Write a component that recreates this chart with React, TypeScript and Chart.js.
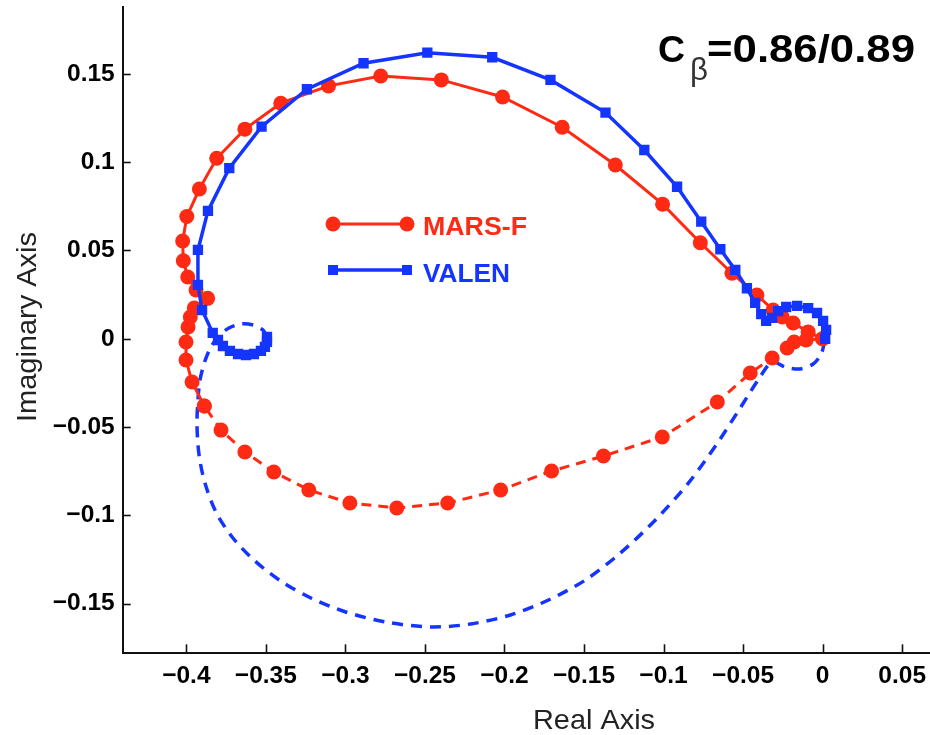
import React, { useEffect, useRef } from "react";
import { Chart, registerables } from "chart.js";

Chart.register(...registerables);

// ---------- axis ticks ----------
const xTickValues = [-0.4, -0.35, -0.3, -0.25, -0.2, -0.15, -0.1, -0.05, 0, 0.05];
const xTickLabels = ["−0.4", "−0.35", "−0.3", "−0.25", "−0.2", "−0.15", "−0.1", "−0.05", "0", "0.05"];
const yTickValues = [-0.15, -0.1, -0.05, 0, 0.05, 0.1, 0.15];
const yTickLabels = ["−0.15", "−0.1", "−0.05", "0", "0.05", "0.1", "0.15"];

// ---------- series: MARS-F (solid, positive branch) ----------
const marsSolidRe = [-0.3887, -0.3964, -0.4002, -0.4002, -0.3989, -0.3975, -0.395, -0.3866, -0.3939, -0.3991, -0.4019, -0.4023, -0.3997, -0.3918, -0.3809, -0.3632, -0.3406, -0.3106, -0.2778, -0.2397, -0.2012, -0.1637, -0.1303, -0.1006, -0.0769, -0.057, -0.0413, -0.0311, -0.0254, -0.0185, -0.0091, 0.0];
const marsSolidIm = [-0.0381, -0.0245, -0.012, -0.0018, 0.0067, 0.0123, 0.0174, 0.0229, 0.0276, 0.035, 0.0442, 0.0554, 0.0692, 0.0848, 0.1022, 0.1187, 0.1334, 0.1432, 0.1488, 0.1466, 0.1369, 0.1198, 0.0984, 0.0762, 0.0544, 0.0371, 0.0248, 0.0163, 0.0123, 0.0089, 0.0039, 0.0];

// ---------- series: MARS-F (dashed branch) ----------
const marsDashRe = [0.0, -0.0104, -0.0179, -0.0223, -0.0317, -0.0455, -0.0662, -0.1008, -0.1378, -0.1704, -0.2024, -0.2357, -0.2677, -0.2972, -0.323, -0.345, -0.3632, -0.3782, -0.3887];
const marsDashIm = [0.0, -0.0007, -0.0018, -0.0052, -0.0109, -0.0194, -0.0358, -0.0556, -0.0664, -0.0749, -0.0856, -0.093, -0.0958, -0.093, -0.0856, -0.0754, -0.0641, -0.0517, -0.0381];

// ---------- series: VALEN (solid branch) ----------
const valenSolidRe = [-0.3493, -0.3493, -0.3506, -0.3531, -0.3575, -0.3625, -0.3675, -0.3726, -0.377, -0.3801, -0.3834, -0.3901, -0.3927, -0.3927, -0.3864, -0.373, -0.3527, -0.3242, -0.2886, -0.2485, -0.2077, -0.1711, -0.1365, -0.1121, -0.0915, -0.0763, -0.0643, -0.0549, -0.0476, -0.0424, -0.0386, -0.0355, -0.0317, -0.0279, -0.0229, -0.016, -0.0091, -0.0035, 0.0003, 0.0022, 0.0016];
const valenSolidIm = [0.001, -0.0018, -0.0046, -0.0069, -0.0086, -0.0092, -0.0086, -0.0069, -0.0041, -0.0007, 0.0033, 0.0163, 0.0305, 0.0503, 0.0724, 0.0966, 0.1201, 0.1413, 0.156, 0.162, 0.1594, 0.1466, 0.1281, 0.1069, 0.0861, 0.0663, 0.0507, 0.039, 0.0286, 0.0203, 0.014, 0.0101, 0.0118, 0.0157, 0.018, 0.0186, 0.0174, 0.0146, 0.0101, 0.005, 0.0];

// ---------- series: VALEN (dashed branch) ----------
const valenDashRe = [-0.3493, -0.3519, -0.3581, -0.3657, -0.3732, -0.3795, -0.3845, -0.3883, -0.3914, -0.3927, -0.3933, -0.392, -0.3883, -0.3814, -0.3707, -0.3569, -0.3406, -0.3217, -0.2998, -0.2746, -0.2464, -0.2213, -0.1962, -0.1723, -0.1491, -0.1271, -0.1051, -0.0844, -0.0669, -0.0518, -0.0405, -0.0317, -0.0235, -0.0141, -0.006, -0.0009, 0.0016];
const valenDashIm = [0.001, 0.005, 0.0078, 0.0084, 0.0061, 0.0016, -0.0046, -0.0126, -0.0233, -0.0347, -0.0488, -0.0658, -0.0817, -0.0981, -0.1128, -0.1258, -0.1372, -0.1468, -0.1547, -0.1604, -0.1632, -0.1615, -0.1564, -0.1479, -0.1366, -0.1213, -0.1026, -0.0817, -0.0601, -0.0392, -0.0233, -0.0131, -0.016, -0.0171, -0.0143, -0.0086, 0.0];

const seriesNames = ["MARS-F", "VALEN"];
const annotationMain = "C";
const annotationSub = "β";
const annotationRest = "=0.86/0.89";
const xTitle = "Real Axis";
const yTitle = "Imaginary Axis";

const RED = "#ff2a14";
const BLUE = "#1434ff";
const FONT = '"Liberation Sans", Arial, Helvetica, sans-serif';

const toPts = (re: number[], im: number[]) => re.map((r, i) => ({ x: r, y: im[i] }));

function fitText(
  ctx: CanvasRenderingContext2D,
  text: string,
  x: number,
  y: number,
  font: string,
  width: number,
  color: string,
  align: "left" | "center" = "left"
) {
  ctx.save();
  ctx.font = font;
  const w = ctx.measureText(text).width;
  const s = width / w;
  ctx.translate(x, y);
  ctx.scale(s, 1);
  ctx.fillStyle = color;
  ctx.textBaseline = "alphabetic";
  ctx.textAlign = align;
  ctx.fillText(text, 0, 0);
  ctx.restore();
}

const zeroPad = (s: any) => {
  s.paddingTop = 0;
  s.paddingBottom = 0;
  s.paddingLeft = 0;
  s.paddingRight = 0;
};

const decorPlugin = {
  id: "decor",
  afterDraw(chart: any) {
    const ctx: CanvasRenderingContext2D = chart.ctx;
    const xs = chart.scales.x;
    const ys = chart.scales.y;
    const area = chart.chartArea;
    ctx.save();
    // inward tick marks
    ctx.strokeStyle = "#111";
    ctx.lineWidth = 1.6;
    xTickValues.forEach((v) => {
      const px = Math.round(xs.getPixelForValue(v)) + 0.5;
      ctx.beginPath();
      ctx.moveTo(px, area.bottom);
      ctx.lineTo(px, area.bottom - 9);
      ctx.stroke();
    });
    yTickValues.forEach((v) => {
      const py = Math.round(ys.getPixelForValue(v)) + 0.5;
      ctx.beginPath();
      ctx.moveTo(area.left, py);
      ctx.lineTo(area.left + 8, py);
      ctx.stroke();
    });

    // legend
    const lx0 = 333, lx1 = 407;
    const ly0 = 224, ly1 = 270;
    ctx.lineWidth = 3;
    ctx.strokeStyle = RED;
    ctx.beginPath();
    ctx.moveTo(lx0, ly0);
    ctx.lineTo(lx1, ly0);
    ctx.stroke();
    ctx.fillStyle = RED;
    [lx0, lx1].forEach((x) => {
      ctx.beginPath();
      ctx.arc(x, ly0, 7.5, 0, Math.PI * 2);
      ctx.fill();
    });
    ctx.lineWidth = 3.5;
    ctx.strokeStyle = BLUE;
    ctx.beginPath();
    ctx.moveTo(lx0, ly1);
    ctx.lineTo(lx1, ly1);
    ctx.stroke();
    ctx.fillStyle = BLUE;
    [lx0, lx1].forEach((x) => {
      ctx.fillRect(x - 5, ly1 - 5, 10, 10);
    });
    fitText(ctx, seriesNames[0], 423, 235, `bold 25px ${FONT}`, 104, RED);
    fitText(ctx, seriesNames[1], 423, 281.5, `bold 25px ${FONT}`, 87, BLUE);

    // annotation C_beta = ...
    fitText(ctx, annotationMain, 658, 62, `bold 37px ${FONT}`, 27, "#000");
    fitText(ctx, annotationSub, 690, 80, `32px ${FONT}`, 18, "#333");
    fitText(ctx, annotationRest, 707, 62, `bold 39px ${FONT}`, 208, "#000");

    // axis titles
    fitText(ctx, xTitle, 594, 729, `28px ${FONT}`, 122, "#222", "center");
    ctx.save();
    ctx.translate(36, 327);
    ctx.rotate(-Math.PI / 2);
    fitText(ctx, yTitle, 0, 0, `28px ${FONT}`, 190, "#222", "center");
    ctx.restore();

    ctx.restore();
  },
};

export default function App() {
  const ref = useRef<HTMLCanvasElement | null>(null);

  useEffect(() => {
    if (!ref.current) return;
    const chart = new Chart(ref.current, {
      type: "scatter",
      data: {
        datasets: [
          {
            label: seriesNames[1],
            data: toPts(valenSolidRe, valenSolidIm),
            showLine: true,
            borderColor: BLUE,
            backgroundColor: BLUE,
            borderWidth: 3.5,
            pointStyle: "rect",
            pointRadius: 7.3,
            pointBorderWidth: 0,
            pointBackgroundColor: BLUE,
            order: 0,
          },
          {
            label: seriesNames[0],
            data: toPts(marsSolidRe, marsSolidIm),
            showLine: true,
            borderColor: RED,
            backgroundColor: RED,
            borderWidth: 3,
            pointStyle: "circle",
            pointRadius: 7.5,
            pointBorderWidth: 0,
            pointBackgroundColor: RED,
            order: 1,
          },
          {
            label: seriesNames[0] + " (dashed)",
            data: toPts(marsDashRe, marsDashIm),
            showLine: true,
            borderColor: RED,
            backgroundColor: RED,
            borderWidth: 3,
            borderDash: [10, 7],
            pointStyle: "circle",
            pointRadius: 7.5,
            pointBorderWidth: 0,
            pointBackgroundColor: RED,
            order: 2,
          },
          {
            label: seriesNames[1] + " (dashed)",
            data: toPts(valenDashRe, valenDashIm),
            showLine: true,
            borderColor: BLUE,
            backgroundColor: BLUE,
            borderWidth: 3.5,
            borderDash: [11, 8],
            pointRadius: 0,
            tension: 0.3,
            order: 3,
          },
        ],
      },
      options: {
        animation: false,
        responsive: false,
        devicePixelRatio: 1,
        layout: { autoPadding: false, padding: { top: 7.3, right: 0, bottom: 0, left: 0 } },
        plugins: {
          legend: { display: false },
          tooltip: { enabled: false },
          title: { display: false },
        },
        scales: {
          x: {
            type: "linear",
            min: -0.44,
            max: 0.0675,
            grid: { display: false, drawTicks: false },
            border: { display: true, color: "#111", width: 2 },
            ticks: {
              color: "#000",
              font: { family: FONT, size: 24.5, weight: "bold" },
              padding: 8,
              maxRotation: 0,
              autoSkip: false,
              callback: (v: any) => {
                const i = xTickValues.findIndex((t) => Math.abs(t - Number(v)) < 1e-9);
                return i >= 0 ? xTickLabels[i] : "";
              },
            },
            afterBuildTicks: (s: any) => {
              s.ticks = xTickValues.map((v) => ({ value: v }));
            },
            afterFit: (s: any) => {
              s.height = 81.7;
              zeroPad(s);
            },
          },
          y: {
            type: "linear",
            min: -0.1781,
            max: 0.1877,
            grid: { display: false, drawTicks: false },
            border: { display: true, color: "#111", width: 2 },
            ticks: {
              color: "#000",
              font: { family: FONT, size: 24.5, weight: "bold" },
              padding: 8,
              autoSkip: false,
              callback: (v: any) => {
                const i = yTickValues.findIndex((t) => Math.abs(t - Number(v)) < 1e-9);
                return i >= 0 ? yTickLabels[i] : "";
              },
            },
            afterBuildTicks: (s: any) => {
              s.ticks = yTickValues.map((v) => ({ value: v }));
            },
            afterFit: (s: any) => {
              s.width = 122.7;
              zeroPad(s);
            },
          },
        },
      },
      plugins: [decorPlugin],
    } as any);
    return () => chart.destroy();
  }, []);

  return (
    <div style={{ position: "absolute", left: 0, top: 0, width: 930, height: 735, background: "#fff" }}>
      <canvas ref={ref} width={930} height={735} style={{ display: "block", width: 930, height: 735 }} />
    </div>
  );
}
